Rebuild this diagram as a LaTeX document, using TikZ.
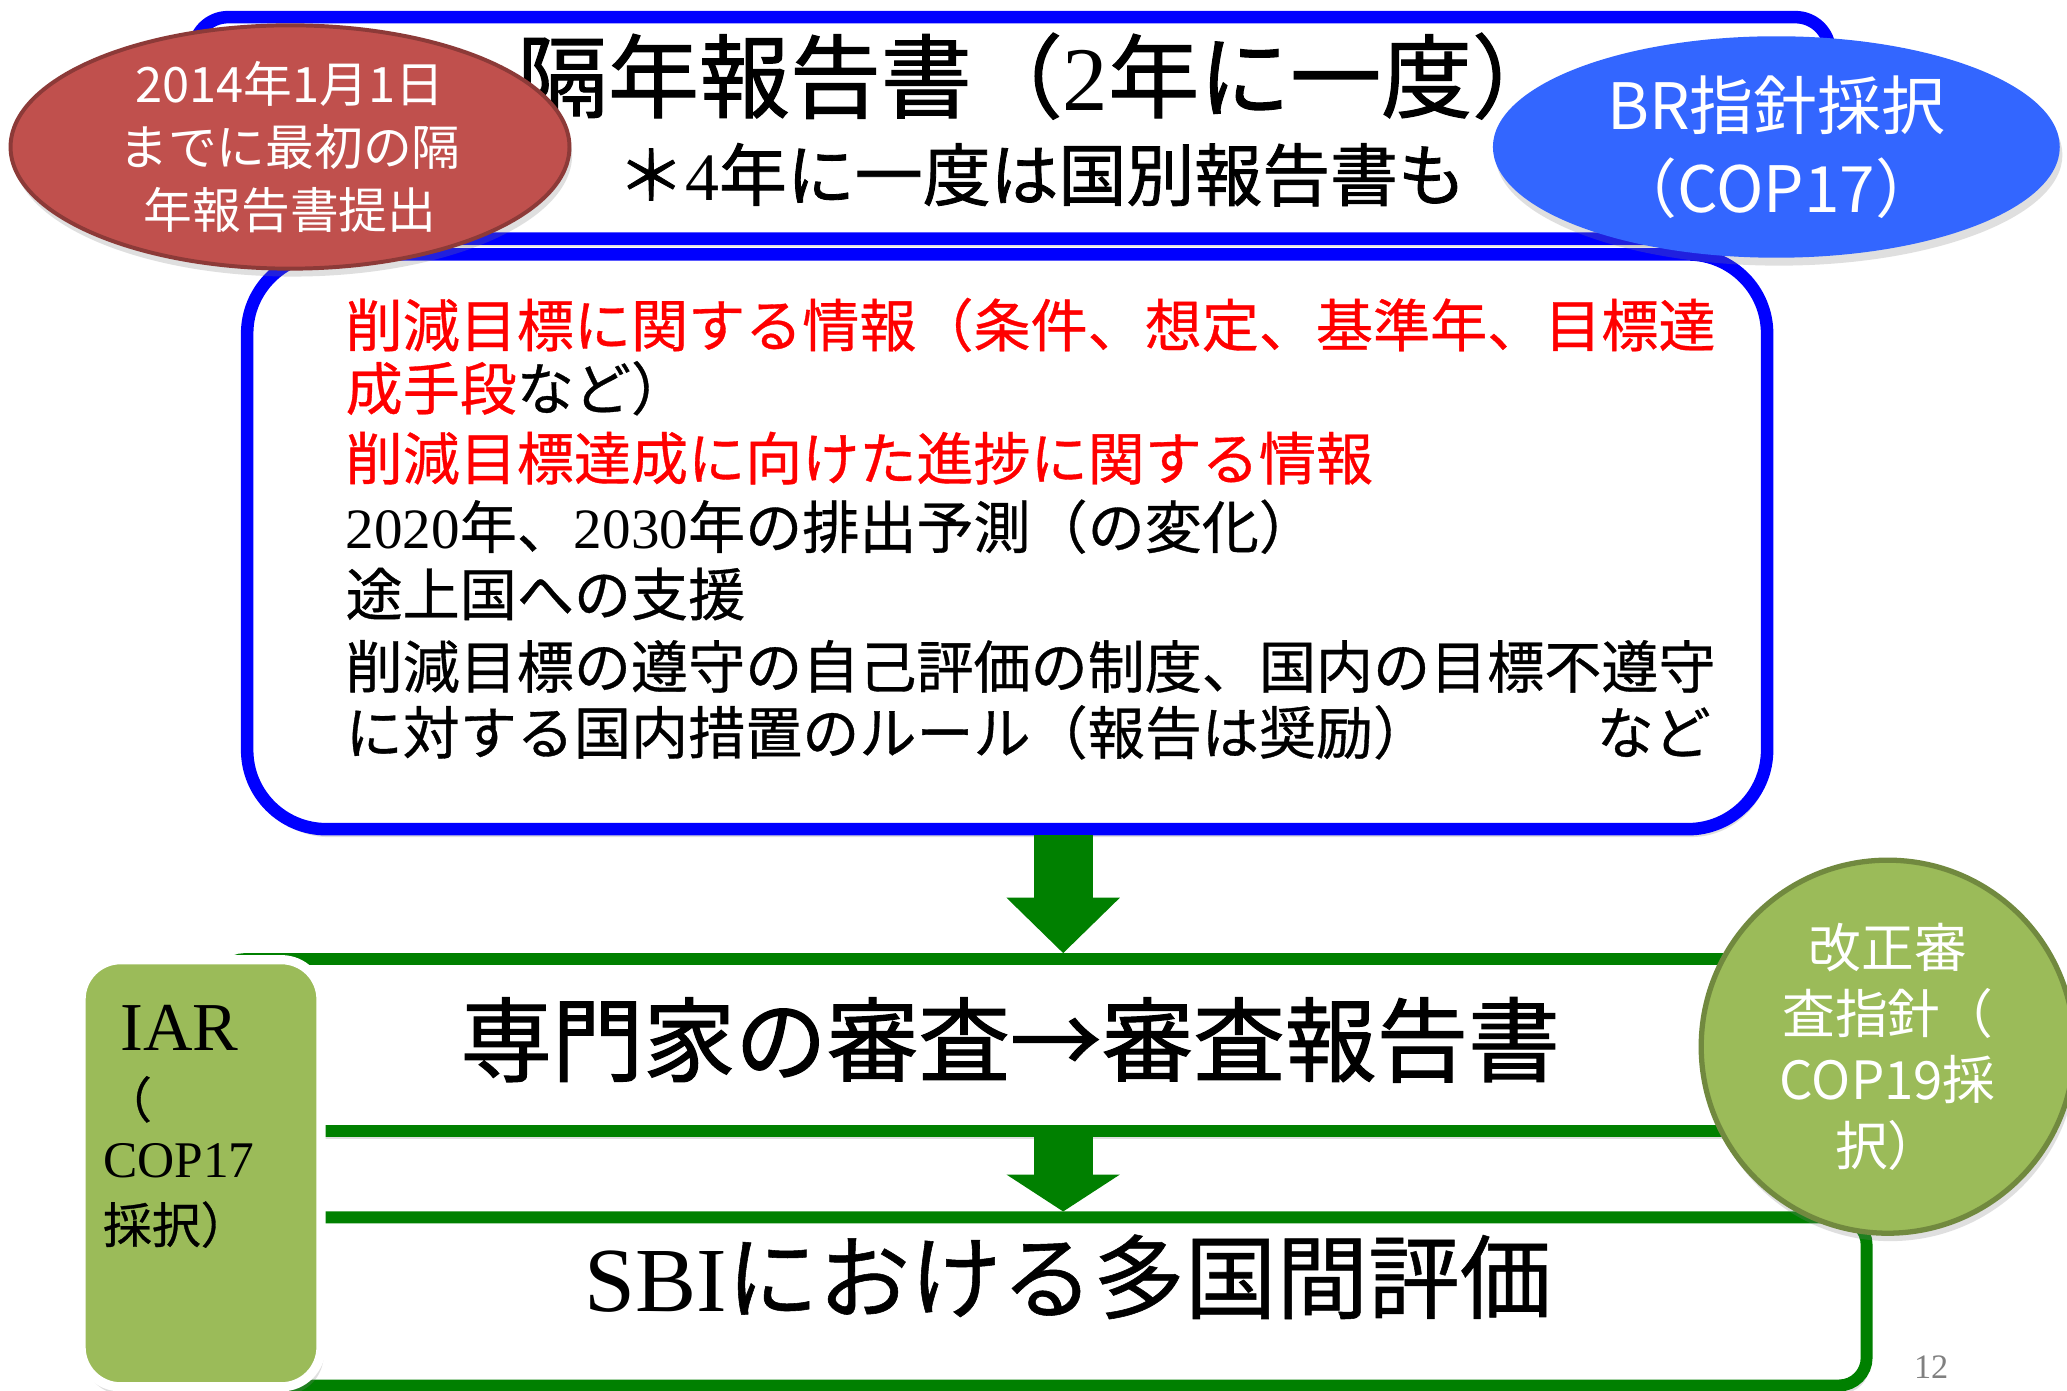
\documentclass[tikz,border=0pt]{standalone}
\usepackage{fontspec}
\setmainfont{Noto Sans CJK JP}
\newfontfamily\jpb{Noto Sans CJK JP}[FakeBold=1.2]
\newfontfamily\jpm{Noto Sans CJK JP}[FakeBold=0.6]
\newfontfamily\sr{Liberation Serif}
\usetikzlibrary{shapes.geometric,arrows.meta,shadows}
\definecolor{bblue}{RGB}{0,0,255}
\definecolor{redfill}{RGB}{192,80,77}
\definecolor{redline}{RGB}{140,58,56}
\definecolor{bluefill}{RGB}{51,102,255}
\definecolor{gline}{RGB}{0,128,0}
\definecolor{olive}{RGB}{155,187,89}
\definecolor{oliveline}{RGB}{113,137,63}
\definecolor{pgray}{RGB}{128,128,128}
\definecolor{rtext}{RGB}{255,0,0}
\newcommand{\fsz}[2]{\fontsize{#1}{#2}\selectfont}
\begin{document}
\begin{tikzpicture}[x=1pt,y=-1pt,
  softshadow/.style={drop shadow={opacity=0.25,shadow xshift=2pt,shadow yshift=-6pt}},
  bluebox/.style={draw=bblue,line width=9.5pt,fill=white,softshadow,inner sep=0pt},
  greenbox/.style={draw=gline,line width=9pt,fill=white,softshadow,inner sep=0pt,rounded corners=21pt},
  jline/.style={inner sep=0pt,anchor=base west,font=\jpm\fsz{43.3}{43.3}},
  bigtext/.style={inner sep=0pt,anchor=base west},
  bigarrow/.style={draw=gline,line width=45pt},
]
\useasboundingbox (0,0) rectangle (1568,1055);
\fill[white] (0,0) rectangle (1568,1055);

% title box
\node[bluebox,rounded corners=26pt,minimum width=1241pt,minimum height=168pt] (titlebox) at (767.5,97) {};
\node[bigtext,font=\jpb\fsz{69}{69}] (title) at (392,84) {隔年報告書（{\sr 2}年に一度）};
\node[bigtext,font=\jpb\fsz{51.5}{51.5}] (subtitle) at (468,152) {＊{\sr 4}年に一度は国別報告書も};

% main box
\node[bluebox,rounded corners=60pt,minimum width=1153pt,minimum height=436pt] (mainbox) at (764,411) {};
\node[jline,text=rtext] (l1) at (262,263) {削減目標に関する情報（条件、想定、基準年、目標達};
\node[jline] (l2) at (262,311) {\textcolor{rtext}{成手段}など）};
\node[jline,text=rtext] (l3) at (262,364) {削減目標達成に向けた進捗に関する情報};
\node[jline] (l4) at (262,416) {{\sr 2020}年、{\sr 2030}年の排出予測（の変化）};
\node[jline] (l5) at (262,467) {途上国への支援};
\node[jline] (l6) at (262,522) {削減目標の遵守の自己評価の制度、国内の目標不遵守};
\node[jline] (l7) at (262,572) {に対する国内措置のルール（報告は奨励）};
\node[jline,anchor=base east] (l7b) at (1298,572) {など};

% ellipses
\node[ellipse,fill=redfill,draw=redline,line width=3pt,minimum width=424pt,minimum height=169pt,
      softshadow,text=white,align=center,font=\fsz{37}{48},inner sep=0pt] (redell) at (220,111.5)
      {2014年1月1日\\までに最初の隔\\年報告書提出};
\node[ellipse,fill=bluefill,minimum width=430pt,minimum height=168pt,
      softshadow,text=white,align=center,font=\fsz{48.5}{63},inner sep=0pt] (blueell) at (1347.5,111.5)
      {BR指針採択\\（COP17）};

% green boxes
\node[greenbox,minimum width=1235pt,minimum height=130.5pt] (box1) at (782.5,792.75) {};
\node[greenbox,minimum width=1251pt,minimum height=127.5pt] (box2) at (790.5,987.25) {};
\node[bigtext,font=\jpb\fsz{69.5}{69.5}] (rev) at (349,815) {専門家の審査→審査報告書};
\node[bigtext,font=\jpm\fsz{69.5}{69.5}] (sbi) at (443,995) {{\sr SBI}における多国間評価};

% arrows
\coordinate (ax) at (806.5,0);
\draw[bigarrow,-{Triangle[width=86pt,length=42pt,line width=0pt]}] (mainbox.south -| ax) -- (box1.north -| ax);
\draw[bigarrow,-{Triangle[width=86pt,length=28pt,line width=0pt]}] (box1.south -| ax) -- (box2.north -| ax);

% IAR box
\node[fill=olive,draw=white,line width=7pt,rounded corners=30pt,minimum width=182pt,minimum height=324pt,
      softshadow,inner sep=0pt] (iar) at (152.5,890) {};
\node[bigtext,font=\sr\fsz{52}{52}] (iar1) at (91,797) {IAR};
\node[bigtext,font=\jpm\fsz{37}{37}] (iar2) at (78,848) {（};
\node[bigtext,font=\sr\fsz{39}{39}] (iar3) at (78,893) {COP17};
\node[bigtext,font=\jpm\fsz{37}{37}] (iar4) at (78,943) {採択）};

% circle
\node[circle,fill=olive,draw=oliveline,line width=4pt,minimum size=283pt,softshadow,
      text=white,align=center,font=\fsz{40}{50},inner sep=0pt] (circ) at (1432,794)
      {改正審\\査指針（\\COP19採\\択）};

% page number
\node[font=\sr\fsz{26}{26},text=pgray,inner sep=0pt] (pnum) at (1465,1037) {12};
\end{tikzpicture}
\end{document}
